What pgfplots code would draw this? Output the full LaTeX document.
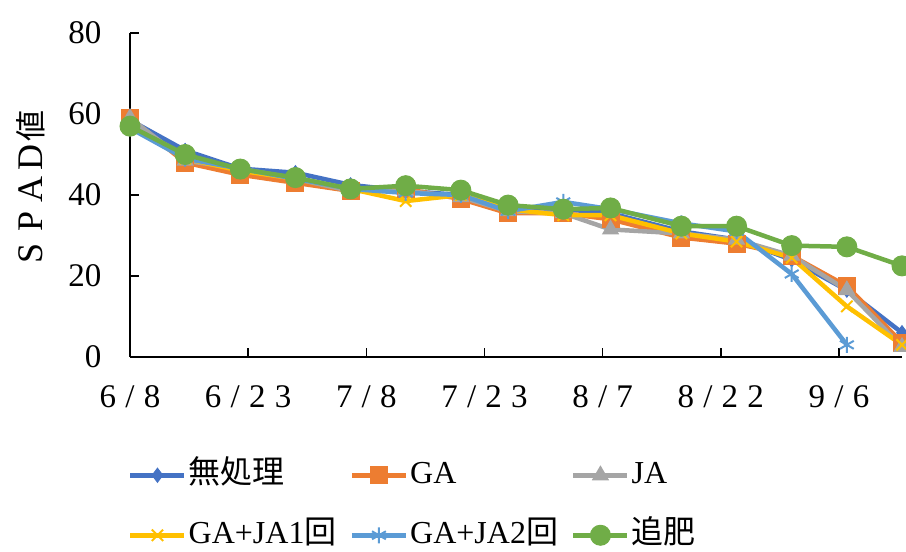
\documentclass[border=0pt]{standalone}
\usepackage{fontspec}
\setmainfont{Liberation Serif}
\newfontfamily\cjk{Noto Sans CJK JP}
\newfontfamily\spc[LetterSpace=28]{Liberation Serif}
\usepackage{pgfplots}
\pgfplotsset{compat=1.18}
\definecolor{cBlue}{HTML}{4472C4}
\definecolor{cOrange}{HTML}{ED7D31}
\definecolor{cGray}{HTML}{A5A5A5}
\definecolor{cYellow}{HTML}{FFC000}
\definecolor{cLBlue}{HTML}{5B9BD5}
\definecolor{cGreen}{HTML}{70AD47}
\newcommand{\lgbox}[1]{\makebox[159pt][l]{#1}}
\begin{document}
\begin{tikzpicture}
\useasboundingbox (0,0) rectangle (906pt,552pt);
\begin{axis}[
  at={(130pt,195pt)}, anchor=south west,
  scale only axis, width=772pt, height=324pt,
  xmin=0, xmax=98, ymin=0, ymax=80,
  clip=false,
  axis x line*=bottom, axis y line*=left,
  axis line style={-, line width=1.6pt, black},
  xtick={0,15,30,45,60,75,90},
  xticklabels={6/8,6/23,7/8,7/23,8/7,8/22,9/6},
  ytick={0,20,40,60,80},
  tick align=inside, major tick length=9pt,
  tick style={line width=1.6pt, black},
  every tick label/.append style={font=\fontsize{33}{36}\selectfont},
  xticklabel style={font=\spc\fontsize{33}{36}\selectfont, yshift=-25pt},
  yticklabel style={xshift=-25pt},
  /pgf/number format/assume math mode=true,
  ylabel={\fontsize{36}{40}\selectfont\makebox[32pt]{S}\makebox[32pt]{P}\makebox[32pt]{A}\makebox[32pt]{D}{\fontsize{31}{36}\selectfont\cjk 値}},
  ylabel style={at={(axis description cs:-0.128,0.515)}, anchor=center},
  legend columns=3,
  legend style={at={(axis description cs:-0.0026,-0.315)}, anchor=north west,
    draw=none, fill=none, inner sep=0pt, row sep=28pt,
    font=\fontsize{32}{36}\selectfont,
    nodes={inner xsep=2pt, inner ysep=0pt, text height=24pt, text depth=8pt}},
  legend cell align=left,
  legend image code/.code={\draw[mark repeat=2,mark phase=2] plot coordinates {(0pt,0pt) (27pt,0pt) (54pt,0pt)};},
  every axis plot/.append style={line width=4.5pt},
]
\addplot[color=cBlue, mark=diamond*, mark size=7pt, mark options={fill=cBlue, line width=1pt}]
coordinates {(0,58.5)(7,51)(14,46.5)(21,45.5)(28,42.5)(35,41)(42,40)(48,36.5)(55,36.5)(61,35.5)(70,31)(77,29)(84,24)(91,16.5)(98,6)};
\addlegendentry{\lgbox{\cjk 無処理}}
\addplot[color=cOrange, mark=square*, mark size=8.5pt, mark options={fill=cOrange, line width=1pt}]
coordinates {(0,59)(7,48)(14,45)(21,43)(28,41)(35,41.5)(42,39)(48,35.5)(55,35.5)(61,34)(70,29.5)(77,28)(84,25)(91,17.5)(98,3.5)};
\addlegendentry{\lgbox{GA}}
\addplot[color=cGray, mark=triangle*, mark size=9pt, mark options={fill=cGray, line width=1pt}]
coordinates {(0,59)(7,48.5)(14,46.5)(21,44)(28,41)(35,41)(42,39.5)(48,36)(55,35.5)(61,31.5)(70,30.5)(77,29)(84,25)(91,16.5)(98,2.5)};
\addlegendentry{\lgbox{JA}}
\addplot[color=cYellow, mark=x, mark size=8pt, mark options={line width=2pt}]
coordinates {(0,57)(7,49)(14,46)(21,44)(28,41.5)(35,38.5)(42,40)(48,36.5)(55,35)(61,35)(70,30.5)(77,28.5)(84,24.5)(91,12.5)(98,3)};
\addlegendentry{\lgbox{GA+JA1{\cjk 回}}}
\addplot[color=cLBlue, mark=asterisk, mark size=8pt, mark options={line width=2pt}]
coordinates {(0,56.5)(7,49)(14,46.5)(21,44)(28,41.5)(35,40.5)(42,40)(48,36)(55,38.3)(61,36.5)(70,33)(77,31)(84,20.5)(91,3)};
\addlegendentry{\lgbox{GA+JA2{\cjk 回}}}
\addplot[color=cGreen, mark=*, mark size=10pt, mark options={fill=cGreen, line width=1pt}]
coordinates {(0,57)(7,50)(14,46.4)(21,44.3)(28,41.5)(35,42.3)(42,41.2)(48,37.5)(55,36.5)(61,36.8)(70,32.3)(77,32.3)(84,27.5)(91,27.2)(98,22.5)};
\addlegendentry{\lgbox{\cjk 追肥}}
\end{axis}
\end{tikzpicture}
\end{document}
